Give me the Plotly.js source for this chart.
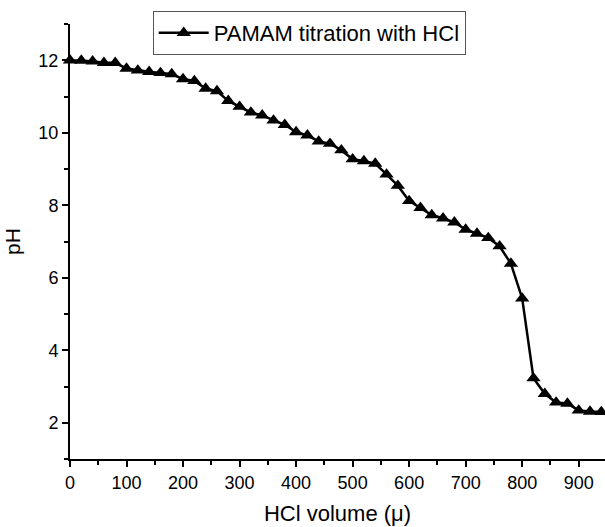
<!DOCTYPE html>
<html>
<head>
<meta charset="utf-8">
<script src="https://cdn.plot.ly/plotly-3.0.1.min.js"></script>
<style>html,body{margin:0;padding:0;background:#fff;}#chart{width:605px;height:527px;}</style>
</head>
<body>
<div id="chart"></div>
<script>
var volume = [0, 20, 40, 60, 80, 100, 120, 140, 160, 180, 200, 220, 240, 260, 280, 300, 320, 340, 360, 380, 400, 420, 440, 460, 480, 500, 520, 540, 560, 580, 600, 620, 640, 660, 680, 700, 720, 740, 760, 780, 800, 820, 840, 860, 880, 900, 920, 940];
var pH = [12.0, 11.99, 11.97, 11.93, 11.93, 11.77, 11.72, 11.68, 11.65, 11.62, 11.48, 11.43, 11.22, 11.15, 10.88, 10.72, 10.56, 10.48, 10.34, 10.22, 10.02, 9.93, 9.76, 9.70, 9.52, 9.27, 9.22, 9.15, 8.85, 8.54, 8.12, 7.93, 7.73, 7.64, 7.53, 7.33, 7.22, 7.10, 6.87, 6.39, 5.43, 3.23, 2.80, 2.56, 2.53, 2.34, 2.31, 2.30];
var seriesName = "PAMAM titration with HCl";
var xTickVals = [0, 100, 200, 300, 400, 500, 600, 700, 800, 900];
var yTickVals = [2, 4, 6, 8, 10, 12];

var font = "Liberation Sans, Arial, sans-serif";
var trace = {
  x: volume, y: pH, name: seriesName, type: "scatter", mode: "lines+markers",
  line: {color: "#000", width: 2.5},
  marker: {symbol: "triangle-up", size: 12.5, color: "#000"},
  cliponaxis: false, showlegend: true
};
var layout = {
  width: 605, height: 527,
  margin: {l: 70, r: 0, t: 24, b: 68, pad: 0},
  paper_bgcolor: "#fff", plot_bgcolor: "#fff",
  font: {family: font, color: "#000", size: 18},
  showlegend: true,
  legend: {x: 0.1546, y: 1.03, xanchor: "left", yanchor: "top",
    bgcolor: "#fff", bordercolor: "#555", borderwidth: 1,
    font: {family: font, size: 22, color: "#000"}, itemwidth: 50,
    tracegroupgap: 0},
  xaxis: {
    range: [0, 946.5], tickvals: xTickVals, ticktext: xTickVals.map(String),
    showgrid: false, zeroline: false, showline: true, linecolor: "#000", linewidth: 2,
    ticks: "outside", ticklen: 6, tickwidth: 2, tickcolor: "#000",
    minor: {tickvals: [50,150,250,350,450,550,650,750,850], ticks: "outside", ticklen: 4, tickwidth: 2, tickcolor: "#000", showgrid: false},
    tickfont: {family: font, size: 18},
    title: {text: "HCl volume (μ)", font: {family: font, size: 22}, standoff: 14}
  },
  yaxis: {
    range: [1, 13], tickvals: yTickVals, ticktext: yTickVals.map(String),
    showgrid: false, zeroline: false, showline: true, linecolor: "#000", linewidth: 2,
    ticks: "outside", ticklen: 6, tickwidth: 2, tickcolor: "#000",
    minor: {tickvals: [1,3,5,7,9,11,13], ticks: "outside", ticklen: 4, tickwidth: 2, tickcolor: "#000", showgrid: false},
    tickfont: {family: font, size: 18},
    title: {text: "pH", font: {family: font, size: 21}, standoff: 12}
  }
};
Plotly.newPlot("chart", [trace], layout, {displayModeBar: false, staticPlot: true});
</script>
</body>
</html>
